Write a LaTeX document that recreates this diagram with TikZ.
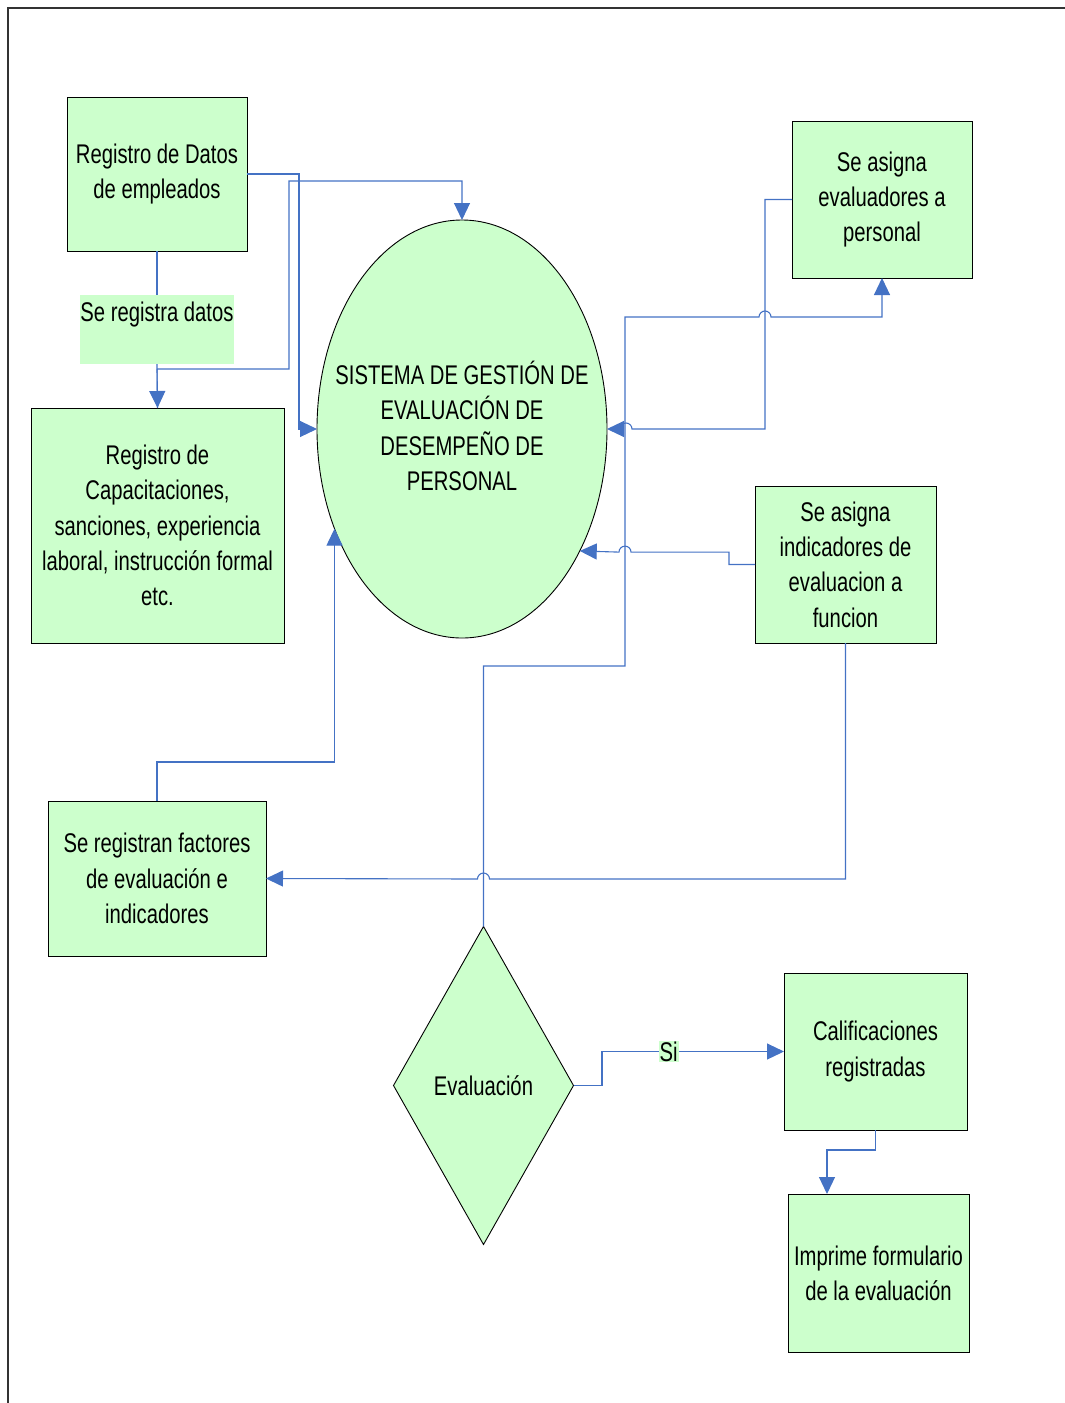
\documentclass[tikz,border=0pt]{standalone}
\usepackage{fontspec}
\setmainfont[FakeStretch=0.75]{Liberation Sans}
\usetikzlibrary{arrows.meta,shapes.geometric,calc}
\definecolor{boxfill}{HTML}{CCFFCC}
\definecolor{linkblue}{HTML}{4472C4}
\begin{document}
\begin{tikzpicture}[x=1pt,y=-1pt,
  every node/.style={font=\fontsize{27}{35.3}\selectfont, align=center, inner sep=0pt, outer sep=0pt},
  box/.style={rectangle, draw=black, line width=0.9pt, fill=boxfill},
  oval/.style={ellipse, draw=black, line width=0.9pt, fill=boxfill},
  decision/.style={diamond, draw=black, line width=0.9pt, fill=boxfill},
  tag/.style={fill=boxfill},
  link/.style={draw=linkblue, line width=1.1pt},
  flow/.style={link, -{Triangle[length=17pt,width=16pt]}},
]
\useasboundingbox (0,0) rectangle (1065,1403);
% page frame
\draw[line width=2pt, black!80] (8,1403) -- (8,8) -- (1065,8);

% nodes
\node[box, minimum width=180pt, minimum height=154pt] (A) at (157,174) {Registro de Datos\\de empleados};
\node[tag, minimum width=154pt, minimum height=69pt] (lbl) at (157,329.5) {Se registra datos\\\mbox{}};
\node[box, minimum width=253pt, minimum height=235pt] (B) at (157.5,525.5) {Registro de\\Capacitaciones,\\sanciones, experiencia\\laboral, instrucción formal\\etc.};
\node[oval, minimum width=290pt, minimum height=418pt] (S) at (462,429) {};
\node (St) at (462,426) {SISTEMA DE GESTIÓN DE\\EVALUACIÓN DE\\DESEMPEÑO DE\\PERSONAL};
\node[box, minimum width=180pt, minimum height=157pt] (C) at (882,199.5) {Se asigna\\evaluadores a\\personal};
\node[box, minimum width=181pt, minimum height=157pt] (D) at (845.5,564.5) {Se asigna\\indicadores de\\evaluacion a\\funcion};
\node[box, minimum width=218pt, minimum height=155pt] (E) at (157,878.5) {Se registran factores\\de evaluación e\\indicadores};
\node[decision, minimum width=180pt, minimum height=318pt] (Dm) at (483.5,1085.5) {Evaluación};
\node[box, minimum width=183pt, minimum height=157pt] (F) at (875.5,1051.5) {Calificaciones\\registradas};
\node[box, minimum width=181pt, minimum height=158pt] (G) at (878.5,1273) {Imprime formulario\\de la evaluación};

% connectors
\draw[link] (A.south) -- (lbl.north);
\draw[flow] (lbl.south) -- (B.north);
\draw[flow] (A.east) -- (299,174) |- (S.west);
\draw[flow] (B.north) -- (157,369) -| (289,181) -| (S.north);
\draw[flow] (C.west) -| (765,429) -- (632,429)
  arc[start angle=0, end angle=180, radius=6pt] -- (S.east);
\draw[flow] (Dm.north) -- (483.5,666) -| (625,317) -- (759,317)
  arc[start angle=180, end angle=0, radius=6pt] -| (C.south);
\draw[flow] (D.west) -| (729,552.1) -- (631,552.1)
  arc[start angle=0, end angle=180, radius=6pt] -- (S.-46.4);
\draw[flow] (D.south) |- (489.5,879)
  arc[start angle=0, end angle=180, radius=6pt] -- (E.east);
\draw[flow] (E.north) -- (157,762) -| (S.218.5);
\draw[flow] (Dm.east) -- (602,1085.5) |- (F.west);
\node[tag, inner sep=1pt] (si) at (668.5,1051.5) {Si};
\draw[flow] (F.south) -- (875.5,1150) -| ([xshift=-51.5pt]G.north);
\end{tikzpicture}
\end{document}
